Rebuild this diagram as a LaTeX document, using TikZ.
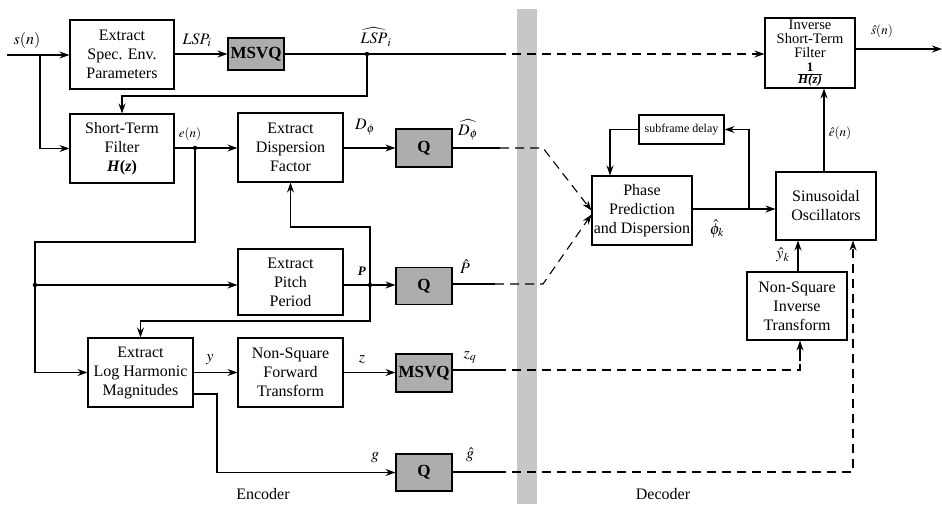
\documentclass[tikz,border=0pt]{standalone}
\usepackage{mathptmx}
\usepackage{fontspec}
\setmainfont{Liberation Serif}
\usetikzlibrary{arrows.meta,calc}
\begin{document}
\begin{tikzpicture}[x=1pt,y=-1pt,
  every path/.style={line width=1.1pt},
  blk/.style={draw, line width=1.1pt, align=center, inner sep=0pt,
    font=\fontsize{16}{19}\selectfont},
  qbox/.style={blk, fill=black!32, font=\fontsize{17}{19}\selectfont\bfseries},
  arr/.style={-{Stealth[length=10pt,width=7pt]}},
  dsh/.style={dash pattern=on 9pt off 6pt},
  lbl/.style={font=\fontsize{16}{18}\selectfont, inner sep=0pt},
  slbl/.style={font=\fontsize{13}{15}\selectfont, inner sep=0pt},
  dot/.style={circle, fill, inner sep=0pt, minimum size=4.5pt}]
\useasboundingbox (0,0) rectangle (942,504);
% separator bar
\fill[black!22] (517,9) rectangle (537,504);
% encoder blocks
\node[blk, minimum width=104pt, minimum height=69pt] (spec) at (122,54.5) {Extract\\Spec. Env.\\Parameters};
\node[qbox, minimum width=56pt, minimum height=32pt] (msvq1) at (256,54) {MSVQ};
\node[blk, minimum width=104pt, minimum height=69pt] (stf) at (122,148.5) {Short-Term\\Filter\\\textbf{\textit{H}(\textit{z})}};
\node[blk, minimum width=105pt, minimum height=69pt] (disp) at (290.5,147.5) {Extract\\Dispersion\\Factor};
\node[qbox, minimum width=56pt, minimum height=38pt] (q1) at (424,148) {Q};
\node[blk, minimum width=105pt, minimum height=66pt] (pitch) at (290.5,282) {Extract\\Pitch\\Period};
\node[qbox, minimum width=56pt, minimum height=37pt] (q2) at (424,286) {Q};
\node[blk, minimum width=105pt, minimum height=69pt] (log) at (140.5,372.5) {Extract\\Log Harmonic\\Magnitudes};
\node[blk, minimum width=105pt, minimum height=69pt] (nsf) at (290.5,372.5) {Non-Square\\Forward\\Transform};
\node[qbox, minimum width=56pt, minimum height=38pt] (msvq2) at (424,373) {MSVQ};
\node[qbox, minimum width=56pt, minimum height=37pt] (q3) at (424,472.5) {Q};
% decoder blocks
\node[blk, minimum width=90pt, minimum height=70pt, font=\fontsize{14.5}{14}\selectfont] (inv) at (810,53) {Inverse\\Short-Term\\Filter\\[5pt]$\frac{\mbox{\fontsize{13}{13}\selectfont\bfseries 1}}{\mbox{\fontsize{13}{13}\selectfont\bfseries\itshape H(z)}}$};
\node[blk, minimum width=100pt, minimum height=69pt] (phase) at (642,210.5) {Phase\\Prediction\\and Dispersion};
\node[blk, minimum width=85pt, minimum height=29pt, font=\fontsize{12}{14}\selectfont] (sub) at (681.5,129.5) {subframe delay};
\node[blk, minimum width=100pt, minimum height=68pt] (sin) at (826,206) {Sinusoidal\\Oscillators};
\node[blk, minimum width=100pt, minimum height=68pt] (nsi) at (797,306) {Non-Square\\Inverse\\Transform};
% coordinates
\coordinate (in) at (7,55);
\coordinate (sb) at (40,55);
\coordinate (lspd) at (367,54);
\coordinate (lspe) at (497,54);
\coordinate (ed) at (195,148);
\coordinate (ld) at (35,285);
\coordinate (pd) at (370,285);
\coordinate (d1) at (500,148);
\coordinate (d2) at (543,148);
\coordinate (p1) at (495,284);
\coordinate (p2) at (543,284);
\coordinate (z1) at (497,370);
\coordinate (z2) at (800,370);
\coordinate (g0) at (217,394);
\coordinate (g1) at (497,472);
\coordinate (g2) at (853,472);
\coordinate (ph) at (749,209);
\coordinate (out) at (942,49);
% encoder connections
\draw[arr] (in) -- (spec.west |- in);
\draw[arr] (sb) |- (stf.west);
\draw[arr] (spec.east |- msvq1) -- (msvq1.west);
\draw (msvq1.east) -- (lspe);
\draw[arr, dsh] (lspe) -- (inv.west |- lspe);
\node[dot] at (lspd) {};
\draw[arr] (lspd) -- (367,96) -| (stf.north);
\draw[arr] (stf.east |- ed) -- (disp.west |- ed);
\node[dot] at (ed) {};
\draw[arr] (ed) -- (195,242) -- (35,242) |- (log.west);
\node[dot] at (ld) {};
\draw[arr] (ld) -- (pitch.west |- ld);
\draw[arr] (disp.east |- q1) -- (q1.west);
\draw (q1.east) -- (d1);
\draw[arr, dsh] (d1) -- (d2) -- ($(phase.west)+(0,0)$);
\draw[arr] (pitch.east |- pd) -- (q2.west |- pd);
\node[dot] at (pd) {};
\draw[arr] (pd) -- (370,227) -| (disp.south);
\draw[arr] (pd) -- (370,321) -| (log.north);
\draw (q2.east |- p1) -- (p1);
\draw[arr, dsh] (p1) -- (p2) -- ($(phase.west)+(0,4)$);
\draw[arr] (log.east |- nsf) -- (nsf.west);
\draw[arr] (nsf.east) -- (msvq2.west |- nsf);
\draw[arr] (log.east |- g0) -- (g0) |- (q3.west);
\draw (msvq2.east |- z1) -- (z1);
\draw[dsh] (z1) -- (z2) -- (800,360);
\draw[arr] (800,361) -- (nsi.south -| z2);
\draw (q3.east |- g1) -- (g1);
\draw[arr, dsh] (g1) -- (g2) -- (sin.south -| g2);
% decoder connections
\draw[arr] (phase.east |- ph) -- (sin.west |- ph);
\draw[arr] (ph) |- (sub.east);
\draw[arr] (sub.west) -| ($(phase.north)+(-32,0)$);
\draw[arr] (sin.north -| 824,0) -- (inv.south -| 824,0);
\draw[arr] (inv.east |- out) -- (out);
\draw[arr] (nsi.north -| 798,0) -- (sin.south -| 798,0);
% labels
\node[lbl] at (27,40) {$s(n)$};
\node[lbl] at (197,40) {$LSP_i$};
\node[lbl] at (376,37) {$\widehat{LSP}_i$};
\node[slbl] at (190,134) {$e(n)$};
\node[lbl] at (365,127) {$D_\phi$};
\node[lbl] at (468,130) {$\widehat{D_\phi}$};
\node[slbl] at (362,271) {\textbf{\textit{P}}};
\node[lbl] at (465,267) {$\hat{P}$};
\node[lbl] at (210,360) {$y$};
\node[lbl] at (362,360) {$z$};
\node[lbl] at (470,357) {$z_q$};
\node[lbl] at (375,458) {$g$};
\node[lbl] at (470,455) {$\hat{g}$};
\node[lbl] at (717,229) {$\hat{\phi}_k$};
\node[lbl] at (783,255) {$\hat{y}_k$};
\node[slbl] at (840,133) {$\hat{e}(n)$};
\node[slbl] at (882,31) {$\hat{s}(n)$};
\node[lbl] at (263,494) {Encoder};
\node[lbl] at (663,494) {Decoder};
\end{tikzpicture}
\end{document}
